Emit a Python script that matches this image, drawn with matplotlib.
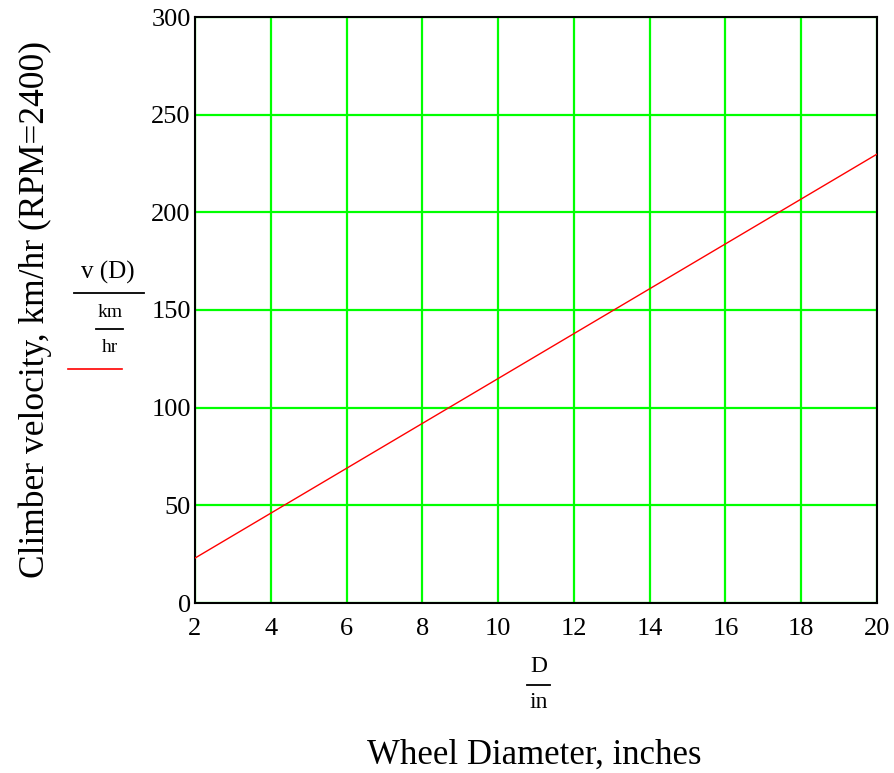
import matplotlib.pyplot as plt
from matplotlib.lines import Line2D

plt.rcParams['font.family'] = ['Liberation Serif', 'DejaVu Serif']

# wheel diameter (in) and climber velocity (km/hr)
diameter = [2, 20]
velocity = [23.0, 229.8]

x_ticks = [2, 4, 6, 8, 10, 12, 14, 16, 18, 20]
y_ticks = [0, 50, 100, 150, 200, 250, 300]

W, H = 895, 773
fig = plt.figure(figsize=(W / 100, H / 100), dpi=100)
ax = fig.add_axes([195 / W, 1 - 603 / H, (877 - 195) / W, (603 - 17) / H])

ax.plot(diameter, velocity, color='#ff0000', lw=1.0, zorder=3)

ax.set_xlim(2, 20)
ax.set_ylim(0, 300)
ax.set_xticks(x_ticks)
ax.set_yticks(y_ticks)
ax.grid(True, color='#00ff00', lw=1.6)
ax.set_axisbelow(True)
ax.tick_params(axis='x', length=0, labelsize=19, pad=11)
ax.tick_params(axis='y', length=0, labelsize=19, pad=3)
for s in ax.spines.values():
    s.set_linewidth(1.5)
    s.set_color('black')


def px(x, y):
    return x / W, 1 - y / H


def hline(x0, x1, y, color='black', lw=1.3):
    fig.add_artist(Line2D([x0 / W, x1 / W], [1 - y / H, 1 - y / H],
                          color=color, lw=lw, transform=fig.transFigure))


# y axis title and legend-like fraction
fig.text(*px(35, 310), 'Climber velocity, km/hr (RPM=2400)', rotation=90,
         ha='center', va='center', fontsize=25.5)
fig.text(*px(108, 272), 'v (D)', ha='center', va='center', fontsize=18)
hline(74, 144, 293)
fig.text(*px(110, 312), 'km', ha='center', va='center', fontsize=14)
hline(96, 123, 329)
fig.text(*px(110, 348), 'hr', ha='center', va='center', fontsize=14)
hline(68, 122, 369, color='#ff0000', lw=1.2)

# x axis fraction and title
fig.text(*px(539, 666), 'D', ha='center', va='center', fontsize=17)
hline(527, 550, 685)
fig.text(*px(539, 702), 'in', ha='center', va='center', fontsize=17)
fig.text(*px(534, 755), 'Wheel Diameter, inches', ha='center', va='center',
         fontsize=25)

fig.savefig('out.png', dpi=100)
